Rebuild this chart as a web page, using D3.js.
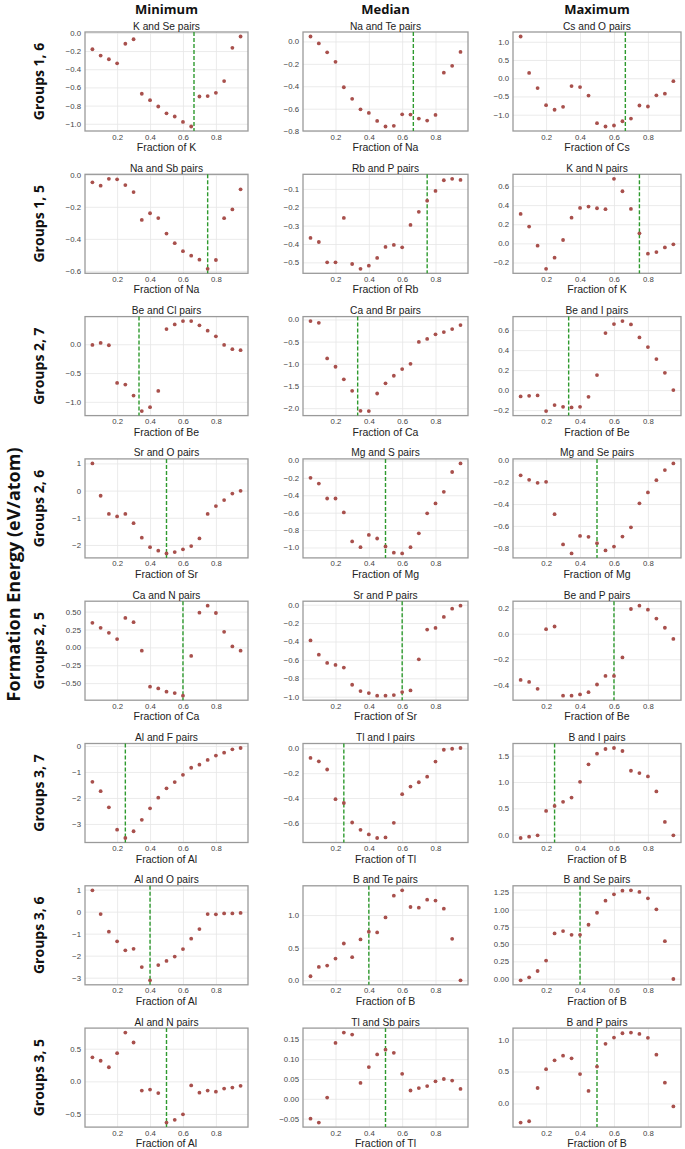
<!DOCTYPE html>
<html>
<head>
<meta charset="utf-8">
<script src="https://cdn.jsdelivr.net/npm/d3@7"></script>
<style>
  body { margin: 0; background: #fff; }
  svg text { font-family: "Liberation Sans", Arial, sans-serif; }
  .hdr { font-family: "Open Sans", "Noto Sans", sans-serif !important; font-weight: bold; }
</style>
</head>
<body>
<svg id="plot"></svg>
<script>
// Composition fractions (same for every panel)
const fractions = [0.05, 0.10, 0.15, 0.20, 0.25, 0.30, 0.35, 0.40, 0.45, 0.50,
                   0.55, 0.60, 0.65, 0.70, 0.75, 0.80, 0.85, 0.90, 0.95];

const columnTitles = ["Minimum", "Median", "Maximum"];
const rowLabels = ["Groups 1, 6", "Groups 1, 5", "Groups 2, 7", "Groups 2, 6",
                   "Groups 2, 5", "Groups 3, 7", "Groups 3, 6", "Groups 3, 5"];

// Formation energies (eV/atom)
const kSe  = [-0.18, -0.25, -0.29, -0.335, -0.12, -0.07, -0.67, -0.74, -0.81, -0.885, -0.92, -0.98, -1.03, -0.70, -0.695, -0.66, -0.53, -0.165, -0.04];
const naTe = [0.044, -0.018, -0.097, -0.182, -0.409, -0.512, -0.606, -0.638, -0.709, -0.759, -0.753, -0.65, -0.653, -0.688, -0.706, -0.656, -0.279, -0.218, -0.094];
const csO  = [1.144, 0.144, -0.27, -0.74, -0.865, -0.784, -0.216, -0.243, -0.477, -1.234, -1.324, -1.297, -1.18, -1.108, -0.748, -0.775, -0.468, -0.423, -0.081];
const naSb = [-0.047, -0.068, -0.025, -0.028, -0.064, -0.108, -0.282, -0.24, -0.27, -0.367, -0.427, -0.477, -0.505, -0.53, -0.587, -0.532, -0.271, -0.216, -0.091];
const rbP  = [-0.367, -0.389, -0.50, -0.50, -0.258, -0.509, -0.535, -0.518, -0.476, -0.416, -0.405, -0.418, -0.296, -0.225, -0.164, -0.111, -0.053, -0.045, -0.051];
const kN   = [0.308, 0.175, -0.024, -0.266, -0.15, 0.035, 0.269, 0.371, 0.385, 0.367, 0.357, 0.675, 0.545, 0.36, 0.105, -0.108, -0.091, -0.042, -0.01];
const beCl = [-0.011, 0.023, -0.017, -0.672, -0.701, -0.891, -1.161, -1.092, -0.81, 0.264, 0.345, 0.402, 0.402, 0.328, 0.236, 0.138, -0.011, -0.086, -0.103];
const caBr = [-0.037, -0.075, -0.88, -1.067, -1.35, -1.61, -2.06, -2.067, -1.67, -1.44, -1.27, -1.12, -1.0, -0.507, -0.44, -0.336, -0.284, -0.216, -0.127];
const beI  = [-0.063, -0.057, -0.053, -0.21, -0.15, -0.167, -0.173, -0.167, -0.067, 0.15, 0.57, 0.66, 0.69, 0.657, 0.527, 0.43, 0.31, 0.173, 0.0];
const srO  = [1.0, -0.19, -0.86, -0.95, -0.86, -1.2, -1.73, -2.08, -2.21, -2.31, -2.26, -2.16, -2.04, -1.76, -0.86, -0.57, -0.35, -0.11, -0.01];
const mgS  = [-0.20, -0.266, -0.437, -0.437, -0.597, -0.93, -0.996, -0.856, -0.897, -0.989, -1.06, -1.068, -0.996, -0.837, -0.608, -0.494, -0.361, -0.133, -0.034];
const mgSe = [-0.136, -0.178, -0.205, -0.196, -0.492, -0.77, -0.852, -0.692, -0.70, -0.758, -0.825, -0.789, -0.698, -0.613, -0.393, -0.293, -0.181, -0.088, -0.027];
const caN  = [0.343, 0.273, 0.204, 0.116, 0.412, 0.352, -0.046, -0.55, -0.574, -0.62, -0.639, -0.676, -0.12, 0.486, 0.583, 0.481, 0.218, 0.014, -0.046];
const srP  = [-0.388, -0.543, -0.633, -0.655, -0.683, -0.87, -0.939, -0.96, -0.989, -0.989, -0.982, -0.95, -0.932, -0.594, -0.27, -0.252, -0.133, -0.043, -0.011];
const beP  = [-0.362, -0.378, -0.432, 0.036, 0.057, -0.486, -0.486, -0.476, -0.458, -0.398, -0.331, -0.331, -0.186, 0.194, 0.22, 0.189, 0.119, 0.047, -0.041];
const alF  = [-1.38, -1.74, -2.36, -3.22, -3.54, -3.28, -2.84, -2.40, -1.99, -1.63, -1.39, -1.11, -0.84, -0.72, -0.54, -0.37, -0.26, -0.13, -0.08];
const tlI  = [-0.077, -0.104, -0.17, -0.409, -0.44, -0.597, -0.656, -0.693, -0.722, -0.717, -0.60, -0.369, -0.308, -0.273, -0.228, -0.106, -0.011, -0.003, 0.003];
const bI   = [-0.064, -0.038, -0.013, 0.451, 0.546, 0.623, 0.705, 1.004, 1.335, 1.538, 1.627, 1.646, 1.589, 1.214, 1.169, 1.106, 0.82, 0.242, -0.013];
const alO  = [0.97, -0.11, -0.91, -1.35, -1.76, -1.69, -2.52, -3.12, -2.43, -2.24, -2.04, -1.70, -1.23, -0.79, -0.11, -0.12, -0.08, -0.08, -0.06];
const bTe  = [0.062, 0.205, 0.226, 0.333, 0.564, 0.354, 0.626, 0.744, 0.733, 0.964, 1.297, 1.379, 1.123, 1.113, 1.236, 1.221, 1.097, 0.636, 0.0];
const bSe  = [-0.024, 0.019, 0.111, 0.262, 0.654, 0.688, 0.635, 0.635, 0.78, 0.954, 1.129, 1.221, 1.274, 1.279, 1.255, 1.163, 1.003, 0.543, -0.005];
const alN  = [0.368, 0.316, 0.216, 0.432, 0.747, 0.595, -0.142, -0.126, -0.179, -0.632, -0.589, -0.505, -0.063, -0.174, -0.142, -0.158, -0.111, -0.095, -0.068];
const tlSb = [-0.05, -0.06, 0.003, 0.141, 0.167, 0.162, 0.04, 0.08, 0.112, 0.124, 0.116, 0.063, 0.021, 0.027, 0.032, 0.044, 0.05, 0.046, 0.025];
const bP   = [-0.299, -0.278, 0.242, 0.536, 0.675, 0.747, 0.706, 0.459, 0.196, 0.577, 0.933, 1.031, 1.098, 1.108, 1.088, 1.026, 0.763, 0.325, -0.046];

// Panels, row by row (Minimum, Median, Maximum)
const pairTitles = [
  "K and Se pairs", "Na and Te pairs", "Cs and O pairs",
  "Na and Sb pairs", "Rb and P pairs", "K and N pairs",
  "Be and Cl pairs", "Ca and Br pairs", "Be and I pairs",
  "Sr and O pairs", "Mg and S pairs", "Mg and Se pairs",
  "Ca and N pairs", "Sr and P pairs", "Be and P pairs",
  "Al and F pairs", "Tl and I pairs", "B and I pairs",
  "Al and O pairs", "B and Te pairs", "B and Se pairs",
  "Al and N pairs", "Tl and Sb pairs", "B and P pairs"
];
const fractionOf = [
  "K", "Na", "Cs", "Na", "Rb", "K", "Be", "Ca", "Be", "Sr", "Mg", "Mg",
  "Ca", "Sr", "Be", "Al", "Tl", "B", "Al", "B", "B", "Al", "Tl", "B"
];
const series = [kSe, naTe, csO, naSb, rbP, kN, beCl, caBr, beI, srO, mgS, mgSe,
                caN, srP, beP, alF, tlI, bI, alO, bTe, bSe, alN, tlSb, bP];
// Stoichiometric fraction marked by the dashed line
const dashAt = [0.667, 0.667, 0.667, 0.75, 0.75, 0.75, 0.333, 0.333, 0.333, 0.5, 0.5, 0.5,
                0.6, 0.6, 0.6, 0.25, 0.25, 0.25, 0.4, 0.4, 0.4, 0.5, 0.5, 0.5];
const yTicks = [
  [-1.0, -0.8, -0.6, -0.4, -0.2, 0.0], [-0.8, -0.6, -0.4, -0.2, 0.0], [-1.0, -0.5, 0.0, 0.5, 1.0],
  [-0.6, -0.4, -0.2, 0.0], [-0.5, -0.4, -0.3, -0.2, -0.1], [-0.2, 0.0, 0.2, 0.4, 0.6],
  [-1.0, -0.5, 0.0], [-2.0, -1.5, -1.0, -0.5, 0.0], [-0.2, 0.0, 0.2, 0.4, 0.6],
  [-2, -1, 0, 1], [-1.0, -0.8, -0.6, -0.4, -0.2, 0.0], [-0.8, -0.6, -0.4, -0.2, 0.0],
  [-0.50, -0.25, 0.00, 0.25, 0.50], [-1.0, -0.8, -0.6, -0.4, -0.2, 0.0], [-0.4, -0.2, 0.0, 0.2],
  [-3, -2, -1, 0], [-0.6, -0.4, -0.2, 0.0], [0.0, 0.5, 1.0, 1.5],
  [-3, -2, -1, 0, 1], [0.0, 0.5, 1.0], [0.00, 0.25, 0.50, 0.75, 1.00, 1.25],
  [-0.5, 0.0, 0.5], [-0.05, 0.00, 0.05, 0.10, 0.15], [0.0, 0.5, 1.0]
];
// decimals shown on each panel's y tick labels
const yDecimals = [1, 1, 1, 1, 1, 1, 1, 1, 1, 0, 1, 1, 2, 1, 1, 0, 1, 1, 0, 1, 2, 1, 2, 1];
const xTicks = [0.2, 0.4, 0.6, 0.8];

// Layout
const W = 685, H = 1149;
const colLeft = [85, 303, 513], colWidth = [163, 165, 168];
const rowTop0 = 32, rowStep = 142.3, boxH = 99;

const svg = d3.select("#plot").attr("width", W).attr("height", H);

// Column headers
columnTitles.forEach((t, c) => {
  svg.append("text").attr("class", "hdr")
    .attr("x", colLeft[c] + colWidth[c] / 2).attr("y", 14)
    .attr("text-anchor", "middle").attr("font-size", 13).attr("fill", "#111")
    .text(t);
});

// Row labels
rowLabels.forEach((t, r) => {
  const cy = rowTop0 + r * rowStep + boxH / 2;
  svg.append("text").attr("class", "hdr")
    .attr("transform", "translate(44," + cy + ") rotate(-90)")
    .attr("text-anchor", "middle").attr("font-size", 14).attr("fill", "#111")
    .text(t);
});

// Shared y label
svg.append("text").attr("class", "hdr")
  .attr("transform", "translate(20," + (H / 2) + ") rotate(-90)")
  .attr("text-anchor", "middle").attr("font-size", 18).attr("fill", "#111")
  .text("Formation Energy (eV/atom)");

series.forEach((vals, i) => {
  const r = Math.floor(i / 3), c = i % 3;
  const left = colLeft[c], w = colWidth[c];
  const top = rowTop0 + r * rowStep;

  const x = d3.scaleLinear().domain([0.005, 0.995]).range([0, w]);
  const lo = d3.min(vals), hi = d3.max(vals), pad = (hi - lo) * 0.05;
  const y = d3.scaleLinear().domain([lo - pad, hi + pad]).range([boxH, 0]);

  const g = svg.append("g").attr("transform", "translate(" + left + "," + top + ")");

  const ticks = yTicks[i];
  const fmt = d3.format("." + yDecimals[i] + "f");

  // grid
  g.append("g").attr("class", "grid")
    .call(d3.axisLeft(y).tickValues(ticks).tickSize(-w).tickFormat(""))
    .call(s => s.select(".domain").remove())
    .call(s => s.selectAll("line").attr("stroke", "#e6e6e6").attr("stroke-width", 0.8));
  g.append("g").attr("class", "grid")
    .attr("transform", "translate(0," + boxH + ")")
    .call(d3.axisBottom(x).tickValues(xTicks).tickSize(-boxH).tickFormat(""))
    .call(s => s.select(".domain").remove())
    .call(s => s.selectAll("line").attr("stroke", "#e6e6e6").attr("stroke-width", 0.8));

  // y tick labels
  g.append("g")
    .call(d3.axisLeft(y).tickValues(ticks).tickSize(0).tickPadding(4).tickFormat(fmt))
    .call(s => s.select(".domain").remove())
    .call(s => s.selectAll("text").attr("font-size", 7.8).attr("fill", "#444"));

  // x tick labels
  g.append("g").attr("transform", "translate(0," + boxH + ")")
    .call(d3.axisBottom(x).tickValues(xTicks).tickSize(0).tickPadding(3).tickFormat(d3.format(".1f")))
    .call(s => s.select(".domain").remove())
    .call(s => s.selectAll("text").attr("font-size", 7.8).attr("fill", "#444"));

  // frame
  g.append("rect").attr("width", w).attr("height", boxH)
    .attr("fill", "none").attr("stroke", "#9a9a9a").attr("stroke-width", 1.3);

  // dashed stoichiometry line
  g.append("line")
    .attr("x1", x(dashAt[i])).attr("x2", x(dashAt[i]))
    .attr("y1", 0).attr("y2", boxH)
    .attr("stroke", "#2e9a2e").attr("stroke-width", 1.4)
    .attr("stroke-dasharray", "4,2");

  // points
  g.selectAll("circle")
    .data(fractions.map((f, k) => [f, vals[k]]))
    .enter().append("circle")
    .attr("cx", d => x(d[0])).attr("cy", d => y(d[1]))
    .attr("r", 1.9).attr("fill", "#a8504c");

  // titles
  g.append("text").attr("x", w / 2).attr("y", -2.5)
    .attr("text-anchor", "middle").attr("font-size", 10.2).attr("fill", "#222")
    .text(pairTitles[i]);
  g.append("text").attr("x", w / 2).attr("y", boxH + 20)
    .attr("text-anchor", "middle").attr("font-size", 10.5).attr("fill", "#222")
    .text("Fraction of " + fractionOf[i]);
});
</script>
</body>
</html>
